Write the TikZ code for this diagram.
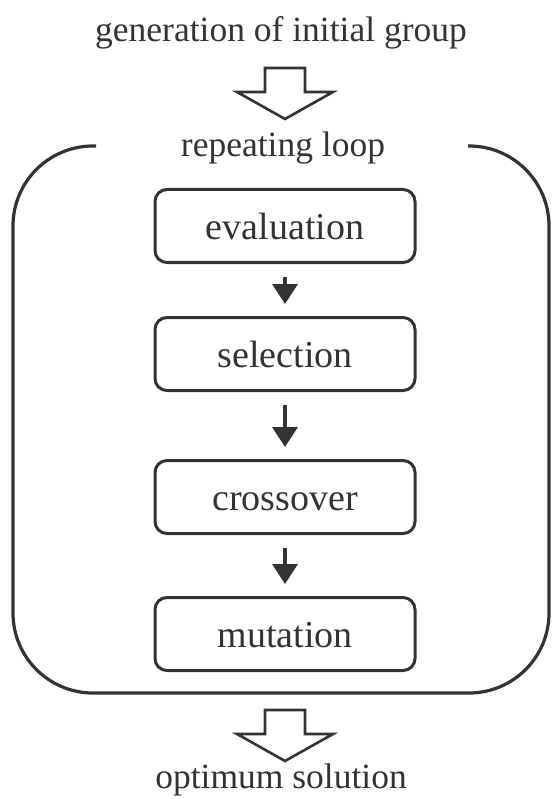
\documentclass[tikz,border=0pt]{standalone}
\usepackage{fontspec}
\setmainfont{Liberation Serif}
\usepackage{tikz}
\usetikzlibrary{arrows.meta,calc}
\definecolor{dark}{HTML}{333333}

\tikzset{
  stage/.style={draw=dark, line width=3pt, rounded corners=12pt,
    minimum width=260pt, minimum height=73pt,
    font=\fontsize{38}{45}\selectfont,
    text height=27pt, text depth=0pt, text=dark},
  caption/.style={anchor=base, text=dark},
  hollow/.style={draw=dark, line width=2.6pt, line join=miter, fill=white},
  flow/.style={dark, line width=3.5pt,
    -{Triangle[width=25pt,length=20pt]},
    shorten <=13pt, shorten >=12pt},
  loopline/.style={dark, line width=3.2pt, rounded corners=80pt}
}

% freccia cava verso il basso, #1 = punto in alto al centro
\newcommand{\hollowarrow}[1]{%
  \draw[hollow] ($(#1)+(-20,0)$) -- ($(#1)+(20,0)$) -- ($(#1)+(20,24)$)
    -- ($(#1)+(48,24)$) -- ($(#1)+(0,51)$) -- ($(#1)+(-48,24)$)
    -- ($(#1)+(-20,24)$) -- cycle;}

\begin{document}
\begin{tikzpicture}[x=1pt, y=-1pt, font=\fontsize{35.5}{42}\selectfont]
  \useasboundingbox (0,0) rectangle (556,799);

  \coordinate (inA)  at (285,68);
  \coordinate (outA) at (285,710);

  % Testi esterni
  \node[caption] (start) at (281,42)  {generation of initial group};
  \node[caption] (rep)   at (283,157) {repeating loop};
  \node[caption] (stop)  at (281,788) {optimum solution};

  % Ciclo aperto in alto
  \draw[loopline] (96,146) -- (13,146) -- (13,693) -- (549,693)
    -- (549,146) -- (468,146);

  % Fasi
  \node[stage] (eval) at (285,226) {evaluation};
  \node[stage] (sel)  at (285,354) {selection};
  \node[stage] (cross) at (285,497) {crossover};
  \node[stage] (mut)  at (285,634) {mutation};

  \draw[flow] (eval) -- (sel);
  \draw[flow] (sel) -- (cross);
  \draw[flow] (cross) -- (mut);

  % Frecce cave
  \hollowarrow{inA}
  \hollowarrow{outA}
\end{tikzpicture}
\end{document}
